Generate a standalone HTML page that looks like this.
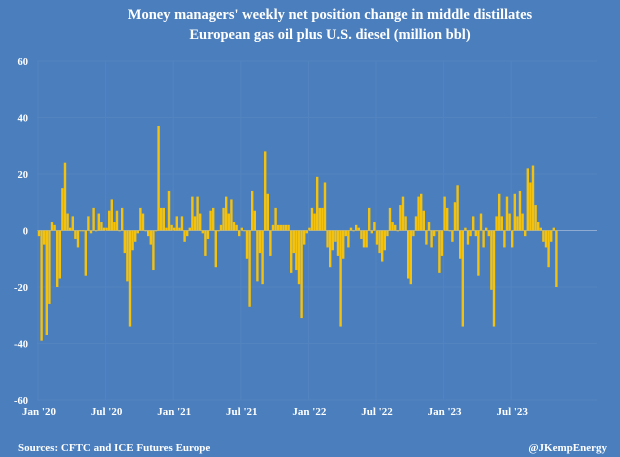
<!DOCTYPE html>
<html><head><meta charset="utf-8"><style>
html,body{margin:0;padding:0;background:#4a7ebd;}
svg{display:block;font-family:"Liberation Serif",serif;font-weight:bold;}
</style></head><body>
<svg id="chart" width="620" height="457" viewBox="0 0 620 457" xmlns="http://www.w3.org/2000/svg">
<rect width="620" height="457" fill="#4a7ebd"/>
<text x="330" y="19" fill="#fff" font-size="14.5" text-anchor="middle">Money managers' weekly net position change in middle distillates</text>
<text x="330" y="39" fill="#fff" font-size="14.5" text-anchor="middle">European gas oil plus U.S. diesel (million bbl)</text>
<g id="grid"></g>
<g id="bars"></g>
<g id="yticks"></g>
<g id="xticks"></g>
<text x="18" y="451" fill="#fff" font-size="11">Sources: CFTC and ICE Futures Europe</text>
<text x="607" y="451" fill="#fff" font-size="11" text-anchor="end">@JKempEnergy</text>
</svg>
<script>
const values = [
-2,-39,-5,-37,-26,3,2,-20,-17,15,24,6,1,5,-3,-6,0,0,-16,5,-1,8,0,6,3,1,1,7,11,3,7,0,8,-8,-18,
-34,-7,-4,-1,8,6,0,-2,-5,-14,0,37,8,8,1,14,2,1,5,1,5,-4,-2,1,12,5,12,6,-1,-9,-3,7,8,-13,0,
2,8,12,6,11,3,2,-2,1,0,-10,-27,14,7,-18,-8,-19,28,13,-9,2,8,2,2,2,2,2,-15,-8,-14,-19,-31,-5,-1,1,8,6,19,
8,8,17,-6,-13,-7,-4,-9,-34,-10,-2,-6,1,0,2,1,-3,-6,-6,8,-1,3,-5,-8,-11,-7,-2,8,3,2,0,9,12,5,-17,-19,
-2,5,12,13,7,-5,3,-6,-2,0,-15,-9,12,8,0,-4,10,16,-10,-34,1,-5,-2,5,-2,-16,6,-6,1,-2,-21,-34,5,13,5,-6,12,
6,-6,13,5,14,6,-2,22,17,23,9,3,1,-4,-6,-13,-4,1,-20
];
const yTicks = [-60,-40,-20,0,20,40,60];
const xTickLabels = ["Jan '20","Jul '20","Jan '21","Jul '21","Jan '22","Jul '22","Jan '23","Jul '23"];
const xTickWeeks = [0,26,52,78,104,130,156,182];

const NS="http://www.w3.org/2000/svg";
const x0=39, step=2.6, plotL=37, plotR=597;
const yTop=61, yBot=400, vMin=-60, vMax=60;
function xs(i){return x0+i*step;}
function ys(v){return yBot-(v-vMin)/(vMax-vMin)*(yBot-yTop);}
function mk(tag,attrs){const e=document.createElementNS(NS,tag);for(const k in attrs)e.setAttribute(k,attrs[k]);return e;}

const grid=document.getElementById('grid');
yTicks.forEach(t=>{
  const l=mk('line',{x1:plotL,x2:plotR,y1:ys(t),y2:ys(t),stroke:t===0?'#8fabd2':'#5384c0','stroke-width':1});
  
  
  grid.appendChild(l);
});
xTickWeeks.forEach(w=>{
  const l=mk('line',{x1:xs(w)-1,x2:xs(w)-1,y1:yTop,y2:yBot,stroke:'#5384c0','stroke-width':1});
  
  
  grid.appendChild(l);
});

const bars=document.getElementById('bars');
values.forEach((v,i)=>{
  const y0=ys(0), y1=ys(v);
  const r=mk('rect',{x:xs(i)-1.2,y:Math.min(y0,y1),width:2.4,height:Math.max(0.8,Math.abs(y1-y0)),fill:'#f4c20d'});
  
  
  bars.appendChild(r);
});

const yt=document.getElementById('yticks');
yTicks.forEach(t=>{
  const tx=mk('text',{x:28,y:ys(t)+4,fill:'#fff','font-size':10.5,'text-anchor':'end'});
  tx.textContent=String(t);
  
  
  yt.appendChild(tx);
});
const xt=document.getElementById('xticks');
xTickLabels.forEach((s,k)=>{
  const tx=mk('text',{x:xs(xTickWeeks[k]),y:415,fill:'#fff','font-size':11,'text-anchor':'middle'});
  tx.textContent=s;
  
  
  xt.appendChild(tx);
});
</script>
</body></html>
